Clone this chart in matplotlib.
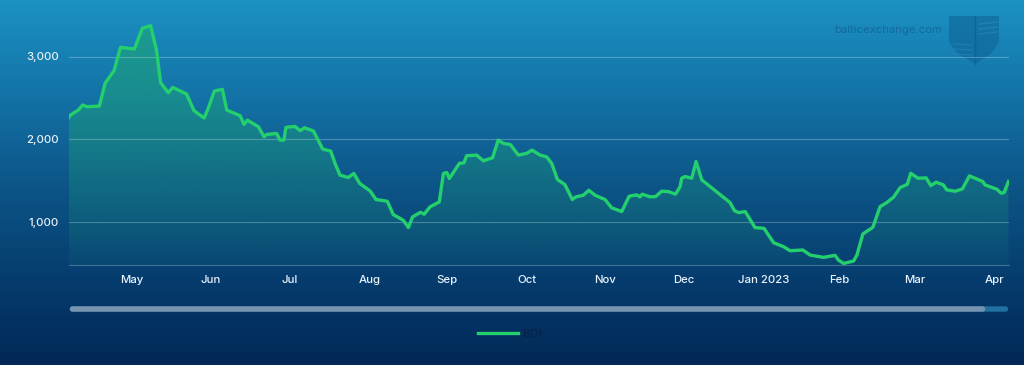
import datetime as dt
import numpy as np
import matplotlib
matplotlib.use("Agg")
import matplotlib.pyplot as plt
import matplotlib.dates as mdates
from matplotlib.patches import FancyBboxPatch, Polygon
from matplotlib.ticker import FuncFormatter

plt.rcParams['font.family'] = ['Inter', 'DejaVu Sans']

START = dt.datetime(2022, 4, 6)
days = [0, 0.4, 3.6, 5.3, 7.1, 11.8, 14, 17.5, 20, 23, 25.4, 28.5, 31.7, 34, 35.6, 38.6, 40.3, 45.7, 48.6, 52.5,
        54.1, 56.5, 59.6, 61.3, 66.5, 68, 69.3, 73.6, 75.8, 76.8, 80.7, 82, 83.5, 84.3, 87.8, 89.8, 91.5, 95,
        98.6, 101.7, 103.4, 105.3, 108.5, 110.7, 113, 117, 119.3, 123.7, 126, 129.9, 131.9, 133.5, 136.6, 138,
        140.3, 143.9, 145.5, 146.8, 147.8, 151.7, 153.5, 154.5, 158.4, 161, 164.6, 166.8, 168.8, 171.6, 174.6,
        177.8, 180, 183, 185.6, 187.6, 189.8, 192.7, 195.6, 197, 199.9, 202, 204.4, 208.3, 210.9, 214.8, 217.7,
        220.6, 221.9, 222.8, 225.8, 228, 230.3, 232.9, 235.7, 237.5, 238.1, 239.4, 242, 243.7, 245.9, 256.9,
        258.6, 260.2, 262.8, 266.6, 270.1, 273.8, 277.7, 280.2, 285.2, 288, 293.2, 297.7, 299, 301, 304.9,
        306.2, 308.5, 312.4, 315.2, 317.8, 320.4, 323, 325.8, 327.1, 329.9, 333.1, 334.9, 337, 339.8, 341.1,
        344.4, 347.2, 349.9, 355.1, 356, 360.6, 362.2, 363.4, 365.1]
bdi = [2266, 2290, 2354, 2415, 2394, 2402, 2676, 2829, 3111, 3099, 3090, 3340, 3372, 3078, 2684, 2563, 2628, 2547,
       2346, 2258, 2374, 2584, 2604, 2354, 2286, 2181, 2233, 2153, 2032, 2060, 2072, 1992, 1992, 2145, 2157, 2105,
       2141, 2101, 1883, 1859, 1710, 1569, 1541, 1589, 1468, 1379, 1275, 1254, 1093, 1025, 936, 1065, 1121, 1097,
       1186, 1246, 1589, 1601, 1528, 1710, 1718, 1803, 1811, 1742, 1778, 1992, 1952, 1936, 1811, 1831, 1871, 1811,
       1790, 1710, 1516, 1456, 1275, 1307, 1327, 1387, 1327, 1275, 1174, 1130, 1315, 1331, 1307, 1339, 1307, 1311,
       1375, 1371, 1339, 1431, 1532, 1552, 1532, 1733, 1512, 1238, 1141, 1117, 1129, 936, 927, 754, 706, 657, 666,
       605, 577, 601, 545, 504, 533, 605, 859, 940, 1189, 1238, 1302, 1419, 1459, 1592, 1532, 1536, 1443, 1484,
       1451, 1391, 1375, 1403, 1560, 1492, 1451, 1399, 1351, 1359, 1492]
y_ticks = [1000, 2000, 3000]
x_tick_labels = ['May', 'Jun', 'Jul', 'Aug', 'Sep', 'Oct', 'Nov', 'Dec', 'Jan 2023', 'Feb', 'Mar', 'Apr']
x_tick_dates = ['2022-04-30T12:00', '2022-05-31T00:00', '2022-06-30T16:00', '2022-08-01T00:00', '2022-08-30T22:00',
                '2022-10-01T00:00', '2022-10-31T08:00', '2022-12-01T00:00', '2022-12-31T22:00', '2023-01-30T08:00',
                '2023-02-28T20:00', '2023-03-31T12:00']

W, H = 1024, 365
fig = plt.figure(figsize=(W / 100, H / 100), dpi=100)

# page background
bg = fig.add_axes([0, 0, 1, 1], zorder=0)
stops_y = np.array([0, 0.25, 0.5, 0.75, 1.0])
stops = np.array([[27, 146, 195], [20, 116, 168], [13, 86, 136], [6, 62, 112], [1, 40, 86]]) / 255
t = np.linspace(0, 1, H)
grad = np.stack([np.interp(t, stops_y, stops[:, i]) for i in range(3)], axis=1)[:, None, :]
bg.imshow(grad, aspect='auto', extent=(0, W, H, 0))
bg.set_xlim(0, W); bg.set_ylim(H, 0); bg.axis('off')

# watermark
bg.text(888, 30, 'balticexchange.com', color='#14699d', fontsize=8.1, ha='center', va='center')
shield = Polygon([(949, 16), (999, 16), (999, 42), (992, 53), (975, 64), (957, 53), (949, 42)],
                 closed=True, fc='#0f6295', ec='none', alpha=0.55)
bg.add_patch(shield)
bg.plot([975, 975], [16, 64], color='#0d5a8c', lw=1.0, alpha=0.6)
for yy in (22, 27, 32):
    bg.plot([979, 997], [yy + 2, yy], color='#2a8abc', lw=1.0, alpha=0.6)
for yy in (44, 49, 54):
    bg.plot([953, 972], [yy, yy + 1], color='#2a86b8', lw=1.0, alpha=0.5)

# scrollbar
bg.add_patch(FancyBboxPatch((70.5, 307), 937, 4, boxstyle='round,pad=0,rounding_size=2', mutation_aspect=1,
                            fc='#22709f', ec='#22709f', lw=1))
bg.add_patch(FancyBboxPatch((70.5, 307), 914, 4, boxstyle='round,pad=0,rounding_size=2', mutation_aspect=1,
                            fc='#7793b0', ec='#7793b0', lw=1))

# chart
top_px = 16
bottom_px = 265
ax = fig.add_axes([69 / W, 1 - bottom_px / H, (1009 - 69) / W, (bottom_px - top_px) / H], zorder=2)
ax.patch.set_alpha(0)
x = [mdates.date2num(START + dt.timedelta(days=d)) for d in days]
x0 = mdates.date2num(START)
x1 = x0 + 365.3
px_per_1000 = 82.9
ymin = 1000 - (bottom_px - 222.3) / px_per_1000 * 1000
ymax = ymin + (bottom_px - top_px) / px_per_1000 * 1000
ax.set_xlim(x0, x1)
ax.set_ylim(ymin, ymax)

fill = ax.fill_between(x, bdi, ymin, color='none', lw=0)
n = 256
rgba = np.zeros((n, 1, 4))
rgba[..., 0] = 30 / 255
rgba[..., 1] = 165 / 255
rgba[..., 2] = 120 / 255
rgba[..., 3] = np.linspace(0.68, 0.08, n)[:, None]
im = ax.imshow(rgba, aspect='auto', extent=(x0, x1, ymin, 3400), origin='upper', zorder=1)
im.set_clip_path(fill.get_paths()[0], transform=ax.transData)
ax.set_xlim(x0, x1)
ax.set_ylim(ymin, ymax)

line, = ax.plot(x, bdi, color='#24cf6e', lw=2.4, solid_joinstyle='round', zorder=3, label='BDI')

ax.set_yticks(y_ticks)
ax.yaxis.set_major_formatter(FuncFormatter(lambda v, _: f'{int(v):,}'))
ax.set_xticks([mdates.date2num(dt.datetime.fromisoformat(d)) for d in x_tick_dates])
ax.set_xticklabels(x_tick_labels)
ax.tick_params(axis='y', length=0, pad=7.5, labelsize=8.2, labelcolor='#e8f2f9')
ax.tick_params(axis='x', length=0, pad=7.5, labelsize=8.2, labelcolor='#e8f2f9')
for lab in ax.get_xticklabels() + ax.get_yticklabels():
    lab.set_fontweight('medium')
ax.grid(axis='y', color='#ffffff', alpha=0.25, lw=0.8, zorder=2)
ax.set_axisbelow(False)
for s in ('top', 'left', 'right'):
    ax.spines[s].set_visible(False)
ax.spines['bottom'].set_color('#ffffff')
ax.spines['bottom'].set_alpha(0.25)
ax.spines['bottom'].set_linewidth(0.8)

leg = ax.legend(handles=[line], loc='center', bbox_to_anchor=(509.5 / W, 1 - 334 / H),
                bbox_transform=fig.transFigure, frameon=False, fontsize=8.2,
                handlelength=3.5, handletextpad=0.45, borderpad=0)
leg.get_texts()[0].set_color('#0b2144')

fig.savefig('out.png', dpi=100)
